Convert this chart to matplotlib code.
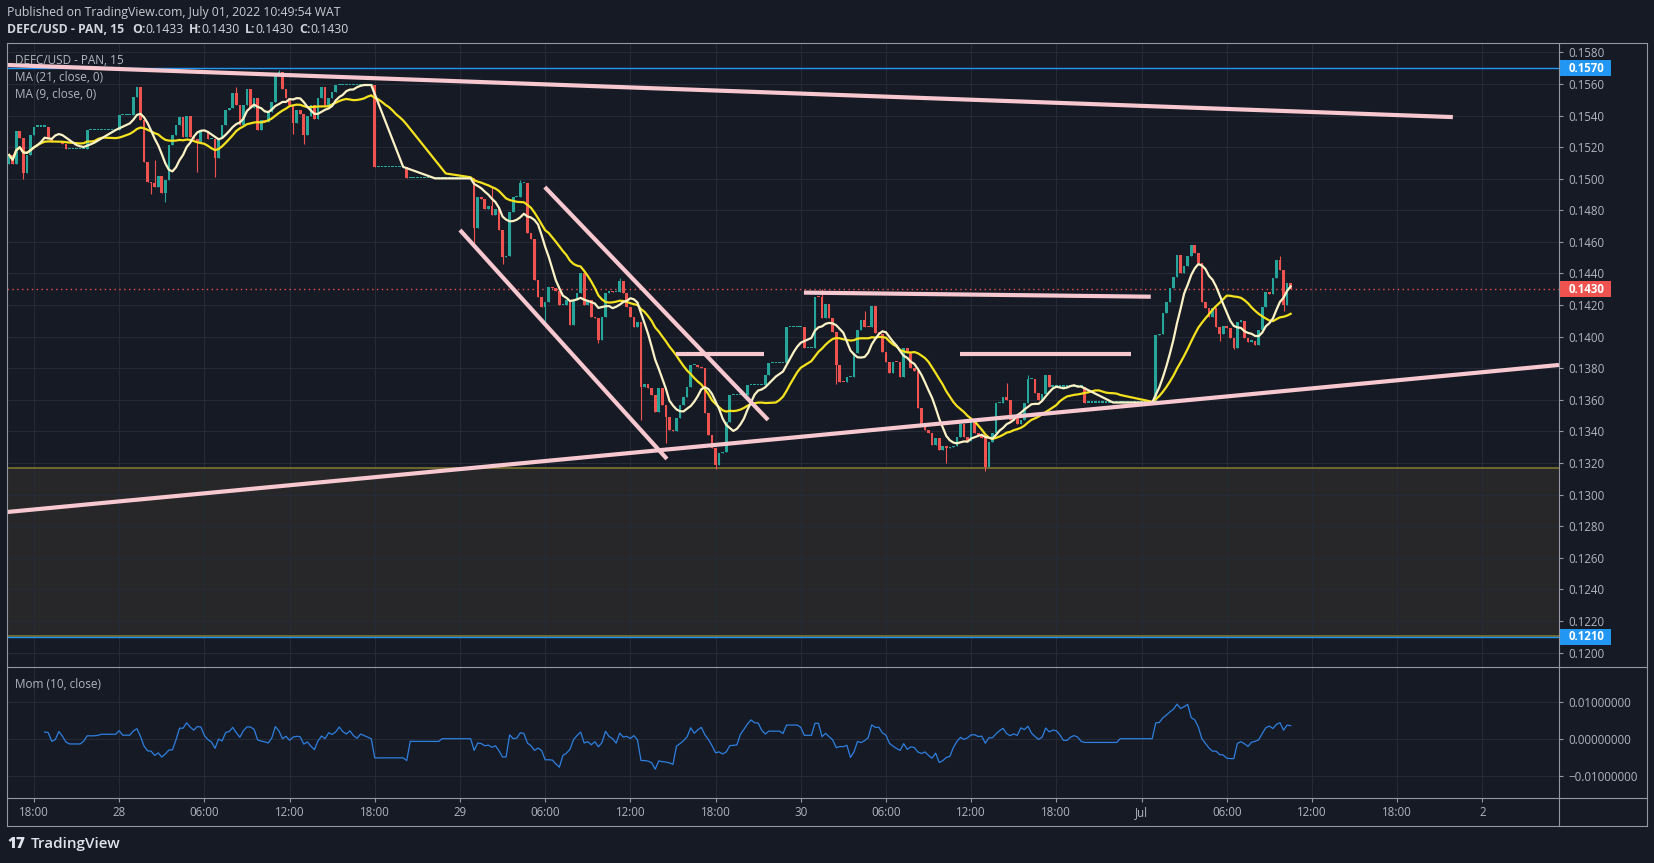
import numpy as np
import pandas as pd
import matplotlib
matplotlib.use("Agg")
import matplotlib.pyplot as plt
from matplotlib.lines import Line2D
from matplotlib.patches import Rectangle
from matplotlib.transforms import blended_transform_factory

# ---------------- data (15-minute bars, prices in units of 0.0001) ----------------
first_bar = -7          # bar 0 = 27 Jun 18:00
first_open = 1509

close_jun27 = [1515, 1509, 1530, 1525.6, 1503.4, 1515, 1527.7,
               1533, 1533, 1533, 1533, 1525.6, 1523, 1523, 1523, 1521.8,
               1518.8, 1518.8, 1518.8, 1518.8, 1518.8, 1518.8, 1530.8,
               1530.8, 1530.8, 1530.8, 1530.8, 1530.8, 1530.8, 1530.8, 1530.8]
close_jun28 = [1540.3, 1540.3, 1540.3, 1540.3, 1551.9, 1557.8, 1537.2, 1510.8, 1498.1, 1497,
               1495, 1502, 1490.7, 1499, 1521.3, 1527.7, 1534, 1539, 1526.6, 1540,
               1526.6, 1525, 1523.4, 1530.8, 1530, 1525, 1525, 1513, 1525.6, 1534,
               1543.5, 1544.5, 1554, 1546.7, 1534, 1546.7, 1557, 1544.6, 1551, 1530.8,
               1537, 1536, 1542.4, 1548.8, 1566.7, 1567.7, 1557, 1551, 1546.7, 1535,
               1543.5, 1541, 1527.7, 1540, 1546.7, 1538, 1550.9, 1558.3, 1546.7, 1551,
               1555, 1559.3,
               1559.3, 1559.3, 1559.3, 1559.3, 1559.3, 1559.3, 1559.3, 1559.3, 1559.3, 1559.3,
               1507.2,
               1507.5, 1507.5, 1507.5, 1507.5, 1507.5, 1507.5, 1507.5, 1507.5,
               1500.2,
               1500.2, 1500.2, 1500.2, 1500.2, 1500.2, 1500.2, 1500.2, 1500.2, 1500.2, 1500.2,
               1500.2, 1500.2, 1500.2, 1500.2]
close_jun29 = [1500.2, 1500.2, 1500.2, 1500.2,
               1468.6, 1488.6, 1487, 1481, 1483, 1477, 1481, 1467.5, 1450.6, 1451,
               1479, 1488.6, 1488.6, 1497, 1497, 1465.4, 1462, 1435.9, 1425.3, 1419,
               1422, 1431.6, 1431, 1429, 1420, 1420, 1423, 1407.4, 1423, 1427.8,
               1440, 1420, 1423, 1412.6, 1412, 1397.9, 1412.6, 1427.4, 1429, 1428,
               1428, 1435, 1427.4, 1419, 1412.6, 1406.3, 1409.5, 1368.4, 1370, 1367.3,
               1363, 1352.5, 1367.3, 1357, 1349.4, 1341, 1340, 1348.3, 1356.8, 1362,
               1368.4, 1382, 1382, 1381, 1380, 1351.5, 1337.8, 1329.3, 1318.8, 1326.2,
               1327, 1346.2, 1363.1,
               1363.1, 1363.1, 1363.1, 1363.1, 1369.4, 1369.4, 1369.4, 1369.4, 1369.4,
               1375.7, 1383.5, 1383.5, 1383.5, 1383.5, 1383.5, 1406.3, 1406.3, 1406.3, 1406.3]
close_jun30 = [1406.3, 1392.6, 1392.6, 1392.6, 1425.3, 1425, 1411.6, 1421, 1411.6, 1403.2,
               1382, 1371.5, 1371, 1374.7, 1374.7, 1389.5, 1404.2, 1410.5, 1406.3, 1406,
               1419.4, 1402.1, 1402, 1390.5, 1384.2, 1376.8, 1384.2, 1384, 1374.7, 1392.6,
               1390.5, 1380, 1378, 1354.6, 1344.1, 1341, 1338.8, 1331.5, 1335.7, 1328.3,
               1331, 1329.3, 1330, 1331, 1336.7, 1344.7, 1336.7, 1334, 1346.2, 1338.8,
               1337, 1336, 1317.7, 1333.6, 1339.2, 1357.8, 1358.3, 1362, 1360, 1347,
               1350, 1345, 1347, 1358, 1373, 1373, 1364.2, 1360, 1364, 1375.8,
               1368.4,
               1368.4, 1368.4, 1368.4, 1368.4, 1368.4, 1368.4, 1368.4, 1368.4, 1368.4,
               1358.3,
               1358.3, 1358.3, 1358.3, 1358.3, 1358.3, 1358.3, 1358.3, 1358.3, 1358.3, 1358.3,
               1358.3, 1358.3, 1358.3, 1358.3, 1358.3]
close_jul01 = [1358.3, 1358.3, 1358.3, 1358.3,
               1401.1, 1402, 1414.8, 1422.2, 1430.7, 1438, 1451.7, 1440, 1445, 1451,
               1458.1, 1452.8, 1446.5, 1422.2, 1418, 1412.7, 1418, 1406.4, 1402, 1407,
               1405.3, 1399, 1392.7, 1409.6, 1410, 1399, 1396.9, 1397, 1394.8, 1404.3,
               1419, 1428.5, 1427, 1437, 1448.6, 1442.3, 1420.1, 1433.8, 1430]

wick_high = {34: 1512, 57: 1558, 69: 1569, 129: 1495, 137: 1499, 165: 1437,
             222: 1430, 234: 1416, 274: 1370.5, 280: 1376, 351: 1451}
wick_low = {-3: 1500, 33: 1490, 37: 1485, 46: 1504, 51: 1501, 73: 1528, 76: 1522,
            124: 1459, 132: 1446, 144: 1409, 159: 1396, 171: 1347, 178: 1333,
            192: 1316, 226: 1370, 257: 1320, 268: 1315, 334: 1397, 338: 1392, 352: 1416}

price_ticks = [0.1200 + 0.002 * k for k in range(20)]
mom_ticks = [-0.01, 0.0, 0.01]
mom_labels = ["\u22120.01000000", "0.00000000", "0.01000000"]
time_ticks = list(range(0, 409, 24))
time_labels = ["18:00", "28", "06:00", "12:00", "18:00", "29", "06:00", "12:00", "18:00",
               "30", "06:00", "12:00", "18:00", "Jul", "06:00", "12:00", "18:00", "2"]

# drawings: (bar index, price) end points
trend_lines = [
    ((-7.6, 0.15720), (399.7, 0.15390)),
    ((-7.6, 0.12890), (429.6, 0.13821)),
    ((120.0, 0.14675), (178.3, 0.13226)),
    ((143.9, 0.14947), (206.8, 0.13473)),
    ((180.8, 0.13892), (205.6, 0.13892)),
    ((216.9, 0.14279), (314.6, 0.14253)),
    ((260.8, 0.13889), (308.9, 0.13889)),
]
zone_top, zone_bottom = 0.13171, 0.12104
blue_levels = [0.1570, 0.1210]
last_price = 0.1430

# ---------------- derived ----------------
closes = np.array(close_jun27 + close_jun28 + close_jun29 + close_jun30 + close_jul01) / 1e4
n = len(closes)
idx = np.arange(first_bar, first_bar + n)
opens = np.concatenate([[first_open / 1e4], closes[:-1]])
highs = np.maximum(opens, closes)
lows = np.minimum(opens, closes)
for k, v in wick_high.items():
    highs[k - first_bar] = max(highs[k - first_bar], v / 1e4)
for k, v in wick_low.items():
    lows[k - first_bar] = min(lows[k - first_bar], v / 1e4)
s = pd.Series(closes)
ma21 = s.rolling(21, min_periods=1).mean().values
ma9 = s.rolling(9, min_periods=1).mean().values
mom = s.diff(10).values

# ---------------- style ----------------
W, H, DPI = 1654, 863, 100
BG = "#161a25"
GRID = "#262a36"
FRAME = "#9598a1"
TXT = "#b2b5be"
UP, DOWN = "#26a69a", "#ef5350"
PINK = "#f8c8d0"
FONT = ["Open Sans", "DejaVu Sans"]
plt.rcParams["font.family"] = FONT

fig = plt.figure(figsize=(W / DPI, H / DPI), dpi=DPI, facecolor=BG)


def fx(x):
    return x / W


def fy(y):
    return 1 - y / H


XL, XR, YT, YSEP, YB, YAX, XAX, XRR = 7, 1559, 43, 667, 798, 826, 1559, 1647
ax = fig.add_axes([fx(XL), fy(YSEP), (XR - XL) / W, (YSEP - YT) / H], facecolor=BG)
axm = fig.add_axes([fx(XL), fy(YB), (XR - XL) / W, (YB - YSEP) / H], facecolor=BG)

xlim = (-7.6, 429.6)
for a in (ax, axm):
    a.set_xlim(*xlim)
    for sp in a.spines.values():
        sp.set_visible(False)
ax.set_ylim(0.11909, 0.15859)
axm.set_ylim(-0.01603, 0.01938)

# grid
for t in time_ticks:
    ax.axvline(t, color=GRID, lw=0.8, zorder=0.5)
    axm.axvline(t, color=GRID, lw=0.8, zorder=0.5)
for p in price_ticks:
    ax.axhline(p, color=GRID, lw=0.8, zorder=0.5)
for p in mom_ticks:
    axm.axhline(p, color=GRID, lw=0.8, zorder=0.5)

# zone rectangle
ax.add_patch(Rectangle((xlim[0], zone_bottom), xlim[1] - xlim[0], zone_top - zone_bottom,
                       facecolor="#272729", edgecolor="none", zorder=0.3))
ax.axhline(zone_top, color="#7d7530", lw=1.2, zorder=1)
ax.axhline(zone_bottom, color="#7d7530", lw=1.2, zorder=1)
for lv in blue_levels:
    ax.axhline(lv, color="#2196f3", lw=1.0, zorder=1.2)
ax.axhline(last_price, color=DOWN, lw=1.0, ls=(0, (1, 2.5)), zorder=1.2)

# candles
cols = np.where(closes >= opens, UP, DOWN)
ax.vlines(idx, lows, highs, colors=cols, lw=0.8, zorder=2)
body_h = np.maximum(np.abs(closes - opens), 0.00007)
ax.bar(idx, body_h, bottom=np.minimum(opens, closes), width=0.75, color=cols,
       linewidth=0, zorder=2.1)

# moving averages
ax.plot(idx, ma21, color="#f5e21f", lw=1.6, zorder=3)
ax.plot(idx, ma9, color="#fbf2c6", lw=1.6, zorder=3.1)

# trend lines
for (x0, y0), (x1, y1) in trend_lines:
    ax.plot([x0, x1], [y0, y1], color=PINK, lw=3.0, solid_capstyle="butt", zorder=4)

# momentum
axm.plot(idx, mom, color="#2d7fe0", lw=0.9, zorder=3)

# ticks
ax.yaxis.tick_right()
ax.set_yticks(price_ticks)
ax.set_yticklabels([f"{p:.4f}" for p in price_ticks])
ax.tick_params(axis="y", direction="out", length=3, width=0.8, color=FRAME,
               labelcolor=TXT, labelsize=8.3, pad=4)
ax.set_xticks(time_ticks)
ax.tick_params(axis="x", length=0, labelbottom=False)

axm.yaxis.tick_right()
axm.set_yticks(mom_ticks)
axm.set_yticklabels(mom_labels)
axm.tick_params(axis="y", direction="out", length=3, width=0.8, color=FRAME,
                labelcolor=TXT, labelsize=8.3, pad=4)
axm.set_xticks(time_ticks)
axm.set_xticklabels(time_labels)
axm.tick_params(axis="x", direction="out", length=3, width=0.8, color=FRAME,
                labelcolor=TXT, labelsize=8.3, pad=3)

# price label boxes
tr = blended_transform_factory(ax.transAxes, ax.transData)
box_h = 16 / 15800
box_w = 52 / (XR - XL)
for lv, c in [(0.1570, "#2196f3"), (last_price, DOWN), (0.1210, "#2196f3")]:
    ax.add_patch(Rectangle((1.0, lv - box_h / 2), box_w, box_h, transform=tr,
                           facecolor=c, edgecolor="none", clip_on=False, zorder=5))
    ax.text(1.0 + 10 / (XR - XL), lv, f"{lv:.4f}", transform=tr, color="white",
            fontsize=8.3, fontweight="bold", va="center", ha="left", zorder=6, clip_on=False)

# frame
for (x0, y0, x1, y1) in [(XL, YT, XRR, YT), (XL, YAX, XRR, YAX), (XL, YT, XL, YAX),
                         (XRR, YT, XRR, YAX), (XL, YSEP, XRR, YSEP), (XL, YB, XRR, YB),
                         (XAX, YT, XAX, YAX)]:
    fig.add_artist(Line2D([fx(x0), fx(x1)], [fy(y0), fy(y1)], color=FRAME, lw=0.8))

# texts
fig.text(fx(7), fy(12.5), "Published on TradingView.com, July 01, 2022 10:49:54 WAT",
         color="#c8cbd3", fontsize=8.8, va="center", ha="left")

renderer = fig.canvas.get_renderer()
xcur = 7
parts = [("DEFC/USD - PAN, 15", "bold", 8), ("O:", "bold", 0), ("0.1433", "normal", 5),
         ("H:", "bold", 0), ("0.1430", "normal", 5), ("L:", "bold", 0), ("0.1430", "normal", 5),
         ("C:", "bold", 0), ("0.1430", "normal", 0)]
for txt, wgt, gap in parts:
    t = fig.text(fx(xcur), fy(29.5), txt, color="#d1d4dc", fontsize=8.8, fontweight=wgt,
                 va="center", ha="left")
    xcur += t.get_window_extent(renderer=renderer).width + gap

for y, txt in [(60.5, "DEFC/USD - PAN, 15"), (77.5, "MA (21, close, 0)"), (95, "MA (9, close, 0)"),
               (684, "Mom (10, close)")]:
    fig.text(fx(15), fy(y), txt, color=TXT, fontsize=8.5, va="center", ha="left", zorder=10)

fig.text(fx(7), fy(844), "17", color="#e0e3eb", fontsize=11, fontweight="heavy",
         va="center", ha="left")
fig.text(fx(31), fy(844), "TradingView", color="#e0e3eb", fontsize=11, fontweight="semibold",
         va="center", ha="left")

fig.savefig("out.png", dpi=DPI, facecolor=BG)
